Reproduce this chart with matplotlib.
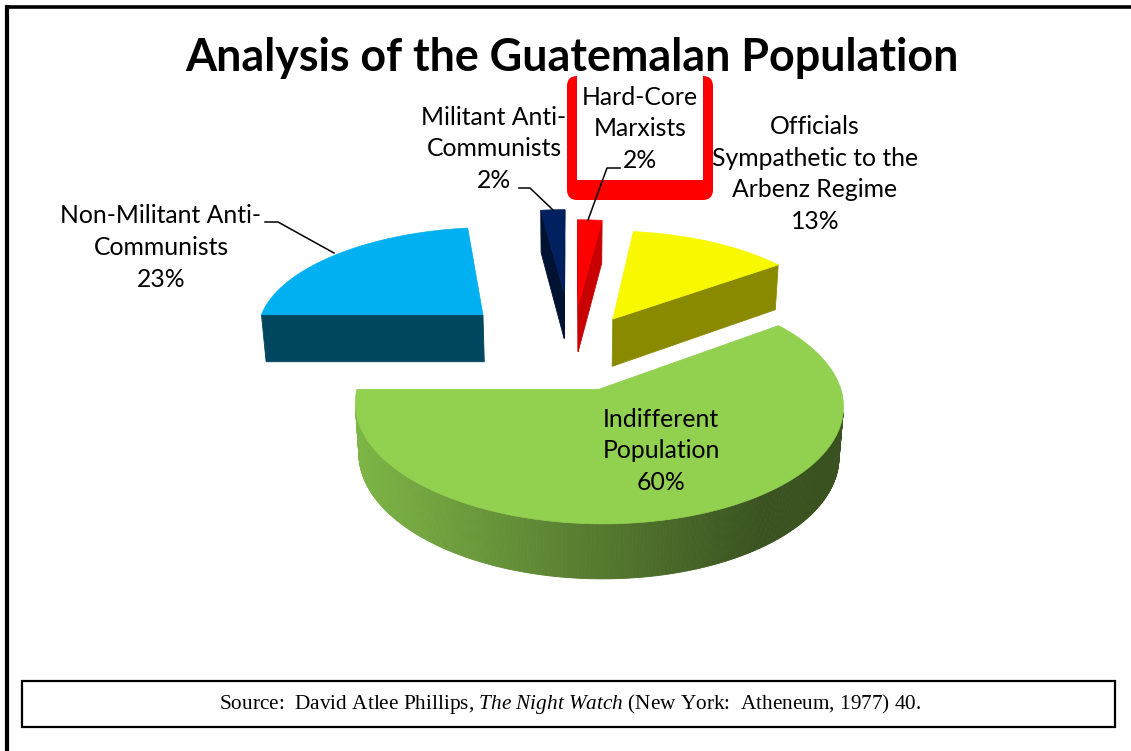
import numpy as np
import matplotlib
matplotlib.use("Agg")
import matplotlib.pyplot as plt
from matplotlib.patches import Polygon, FancyBboxPatch, Rectangle

plt.rcParams["mathtext.fontset"] = "custom"
plt.rcParams["mathtext.rm"] = "Liberation Serif"
plt.rcParams["mathtext.it"] = "Liberation Serif:italic"

# ---------------- data ----------------
categories = ["Officials\nSympathetic to the\nArbenz Regime",
              "Hard-Core\nMarxists",
              "Militant Anti-\nCommunists",
              "Non-Militant Anti-\nCommunists",
              "Indifferent\nPopulation"]
shares = [13, 2, 2, 23, 60]            # percent
explode = [0.36, 0.455, 0.59, 0.536, 0.36]
start_angle = 36.0                      # degrees, slices run counter-clockwise
title = "Analysis of the Guatemalan Population"

# ---------------- style ----------------
top_colors = ["#F8F800", "#FF0000", "#002060", "#00B0F0", "#92D050"]
cut_colors = ["#8A8A00", "#C80000", "#001232", "#00465F", "#4F7A2C"]
FONT = "Lato"

# camera / projection (pixel space)
X0, Y0 = 572.0, 351.0
F, D = 1620.0, 7.0
ELEV = np.radians(27.5)
CE, SE = np.cos(ELEV), np.sin(ELEV)
H = 0.24
CAM = np.array([0.0, -D * CE, D * SE])


def proj(x, y, z):
    dc = D + y * CE - z * SE
    uc = y * SE + z * CE
    return (X0 + F * x / dc, Y0 - F * uc / dc)


def depth(x, y, z):
    return D + y * CE - z * SE


fig = plt.figure(figsize=(11.31, 7.51), dpi=100)
ax = fig.add_axes([0, 0, 1, 1])
ax.set_xlim(0, 1131)
ax.set_ylim(751, 0)
ax.axis("off")

# page frame
ax.plot([7, 7], [5, 751], color="black", lw=3.0, solid_capstyle="butt")
ax.plot([5, 1131], [6.5, 6.5], color="black", lw=2.6, solid_capstyle="butt")

# ---------------- 3-D pie ----------------
total = float(sum(shares))
angles = []
a = start_angle
for s in shares:
    span = 360.0 * s / total
    angles.append((a, a + span))
    a += span

green_light = np.array([126, 182, 70]) / 255.0
green_dark = np.array([58, 82, 32]) / 255.0

slices = []
for i, (s, (d1, d2)) in enumerate(zip(shares, angles)):
    a1, a2 = np.radians(d1), np.radians(d2)
    mid = 0.5 * (a1 + a2)
    ox, oy = explode[i] * np.cos(mid), explode[i] * np.sin(mid)
    n = max(6, int((d2 - d1) * 2))
    ts = np.linspace(a1, a2, n)
    faces = []
    # outer curved side
    for t0, t1 in zip(ts[:-1], ts[1:]):
        tm = 0.5 * (t0 + t1)
        p = np.array([ox + np.cos(tm), oy + np.sin(tm), -H / 2])
        nrm = np.array([np.cos(tm), np.sin(tm), 0.0])
        if np.dot(nrm, CAM - p) <= 0:
            continue
        quad = [proj(ox + np.cos(t0), oy + np.sin(t0), 0),
                proj(ox + np.cos(t1), oy + np.sin(t1), 0),
                proj(ox + np.cos(t1), oy + np.sin(t1), -H),
                proj(ox + np.cos(t0), oy + np.sin(t0), -H)]
        cx = np.mean([q[0] for q in quad])
        if i == 4:
            f = np.clip((cx - 355) / (760 - 355), 0, 1)
            col = green_light * (1 - f) + green_dark * f
        else:
            col = cut_colors[i]
        faces.append((depth(*p), quad, col))
    # cut faces
    for ang, nrm in ((a1, np.array([np.sin(a1), -np.cos(a1), 0.0])),
                     (a2, np.array([-np.sin(a2), np.cos(a2), 0.0]))):
        p = np.array([ox + 0.5 * np.cos(ang), oy + 0.5 * np.sin(ang), -H / 2])
        if np.dot(nrm, CAM - p) <= 0:
            continue
        quad = [proj(ox, oy, 0),
                proj(ox + np.cos(ang), oy + np.sin(ang), 0),
                proj(ox + np.cos(ang), oy + np.sin(ang), -H),
                proj(ox, oy, -H)]
        faces.append((depth(*p), quad, cut_colors[i]))
    top = [proj(ox, oy, 0)] + [proj(ox + np.cos(t), oy + np.sin(t), 0) for t in ts]
    slices.append((oy, faces, top, top_colors[i]))

for oy, faces, top, tcol in sorted(slices, key=lambda r: -r[0]):
    for dpt, quad, col in sorted(faces, key=lambda r: -r[0]):
        ax.add_patch(Polygon(quad, closed=True, fc=col, ec=col, lw=0.6))
    ax.add_patch(Polygon(top, closed=True, fc=tcol, ec=tcol, lw=0.5))

# ---------------- highlight box ----------------
ax.add_patch(FancyBboxPatch((567, 76), 146, 124,
                            boxstyle="round,pad=0,rounding_size=10",
                            fc="#FF0000", ec="none", zorder=3))
ax.add_patch(Rectangle((577, 70), 126, 110, fc="white", ec="none", zorder=3.1))

# ---------------- labels ----------------
pct = [f"{s}%" for s in shares]
label_pos = [(815, 174), (640, 129), (494, 149), (161, 247.5), (661, 451)]
for cat, p, (lx, ly) in zip(categories, pct, label_pos):
    ax.text(lx, ly, cat + "\n" + p, ha="center", va="center",
            multialignment="center", fontsize=17.8, family=FONT,
            linespacing=1.45, color="black", zorder=5)

leaders = [
    ([265, 278, 334], [222, 222, 253]),
    ([519, 530, 553], [188, 188, 210]),
    ([620, 607, 588], [168, 168, 220]),
]
for xs, ys in leaders:
    ax.plot(xs, ys, color="black", lw=1.1, zorder=4)

# ---------------- title ----------------
ax.text(572, 58, title, ha="center", va="center", fontsize=32.3,
        fontweight="bold", family=FONT, zorder=5)

# ---------------- source box ----------------
ax.add_patch(Rectangle((22, 681), 1093, 46, fc="white", ec="black", lw=1.6, zorder=5))
ax.text(570, 704,
        r"Source:  David Atlee Phillips, $\mathit{The\ Night\ Watch}$ (New York:  Atheneum, 1977) 40.",
        ha="center", va="center", fontsize=15.3, family="Liberation Serif", zorder=6)

fig.savefig("out.png", dpi=100)
